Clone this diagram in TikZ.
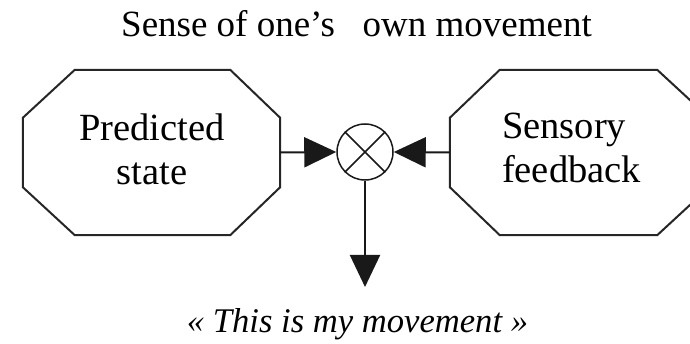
\documentclass[tikz,border=0pt]{standalone}
\usepackage{fontspec}
\setmainfont{Liberation Serif}
\usetikzlibrary{arrows.meta,calc}
\begin{document}
\begin{tikzpicture}[x=1pt,y=-1pt,
  octo/.style={draw=black!85, line width=2pt, line join=miter},
  lbl/.style={font=\fontsize{37}{45}\selectfont, inner sep=0pt},
  boxlbl/.style={font=\fontsize{38.5}{44}\selectfont, inner sep=0pt},
  conn/.style={draw=black!90, line width=2pt, -{Triangle[length=32pt,width=30pt]}},
  mult/.style={circle, draw=black!90, line width=1.5pt, minimum size=56pt, inner sep=0pt}]
\useasboundingbox (0,0) rectangle (690,344);
\clip (0,0) rectangle (690,344);
% boxes (invisible frames for the octagons)
\node[minimum width=257pt, minimum height=165pt, inner sep=0pt] (pred) at (151.5,152.5) {};
\node[minimum width=259pt, minimum height=165pt, inner sep=0pt] (sens) at (579.5,152.5) {};
\draw[octo] ($(pred.north west)+(52,0)$) -- ($(pred.north east)+(-50,0)$) -- ($(pred.north east)+(0,48)$)
  -- ($(pred.south east)+(0,-48)$) -- ($(pred.south east)+(-50,0)$) -- ($(pred.south west)+(52,0)$)
  -- ($(pred.south west)+(0,-48)$) -- ($(pred.north west)+(0,48)$) -- cycle;
\draw[octo] ($(sens.north west)+(50,0)$) -- ($(sens.north east)+(-52,0)$) -- ($(sens.north east)+(0,48)$)
  -- ($(sens.south east)+(0,-48)$) -- ($(sens.south east)+(-52,0)$) -- ($(sens.south west)+(50,0)$)
  -- ($(sens.south west)+(0,-48)$) -- ($(sens.north west)+(0,48)$) -- cycle;
\node[boxlbl, align=center] (predtext) at (152,149) {Predicted\\state};
\node[boxlbl, align=left] (senstext) at (571.5,148) {Sensory\\feedback};
% comparator
\node[mult] (cmp) at (365,152) {};
\draw[line width=1.5pt, black!90] (cmp.north west) -- (cmp.south east) (cmp.north east) -- (cmp.south west);
\coordinate (out) at (365,287);
\draw[conn] (pred.east) -- (cmp.west);
\draw[conn] (sens.west) -- (cmp.east);
\draw[conn] (cmp.south) -- (out);
% texts
\node[lbl, anchor=base] (title) at (356.5,37) {Sense of one’s \ \ own movement};
\node[lbl, anchor=base, font=\fontsize{34.6}{42}\selectfont\itshape] (result) at (357.5,332) {« This is my movement »};
\end{tikzpicture}
\end{document}
